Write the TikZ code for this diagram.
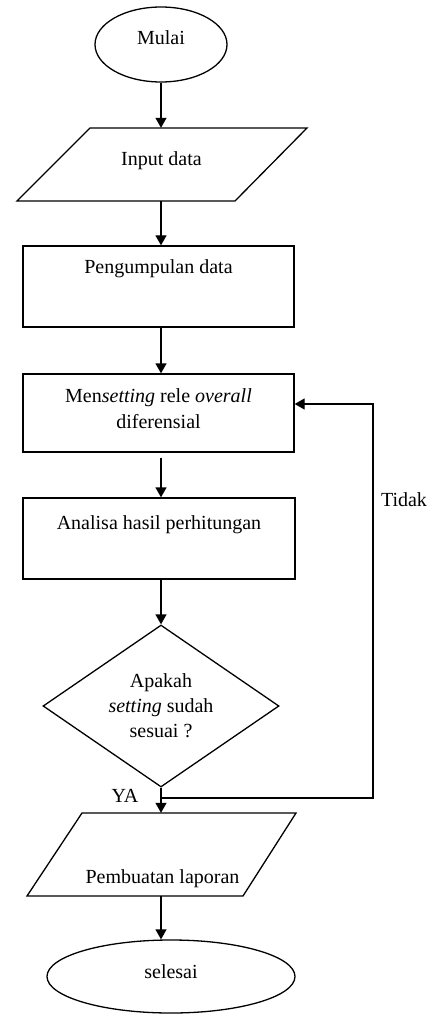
\documentclass[tikz,border=0pt]{standalone}
\usepackage{fontspec}
\setmainfont{Liberation Serif}
\usetikzlibrary{shapes.geometric,arrows.meta}
\begin{document}
\begin{tikzpicture}[x=1pt,y=-1pt,
  outline/.style={draw=black,line width=1.3pt},
  term/.style={outline,ellipse,inner sep=0pt},
  procbox/.style={outline,rectangle,minimum width=271pt,inner sep=0pt},
  decision/.style={outline,diamond,minimum width=236pt,minimum height=162pt,aspect=1.46,inner sep=0pt,
    font=\fontsize{20}{25}\selectfont,align=center},
  area/.style={rectangle,inner sep=0pt},
  txt/.style={inner sep=0pt,font=\fontsize{20}{26}\selectfont,align=center},
  arr/.style={line width=1.3pt,-{Triangle[length=10pt,width=11pt]}},
  link/.style={line width=1.3pt}]
\useasboundingbox (0,0) rectangle (439,1016);
\coordinate (ax) at (161,0);
% start
\node[term,minimum width=132pt,minimum height=75pt] (mulai) at (161,44.5) {};
\node[txt] (mulaitxt) at (161,38) {Mulai};
% input data
\node[area,minimum width=217pt,minimum height=73pt] (inp) at (161,164.5) {};
\draw[outline] (17,201) -- (90,128) -- (307,128) -- (235,201) -- cycle;
\node[txt] (inptxt) at (161.5,161) {Input data};
% pengumpulan
\node[procbox,minimum height=81pt] (peng) at (158.5,286.5) {};
\node[txt] (pengtxt) at (158.5,269) {Pengumpulan data};
% mensetting
\node[procbox,minimum height=78pt] (men) at (158.5,413) {};
\node[txt] (mentxt) at (158.5,409) {Men\textit{setting} rele \textit{overall}\\diferensial};
% analisa
\node[procbox,minimum width=272pt,minimum height=81pt] (ana) at (159,538.5) {};
\node[txt] (anatxt) at (159,525) {Analisa hasil perhitungan};
% decision
\node[decision] (dia) at (161,706) {Apakah\\\textit{setting} sudah\\sesuai ?};
% pembuatan laporan
\node[area,minimum width=160pt,minimum height=83pt] (lap) at (161,854.5) {};
\draw[outline] (27,896) -- (82,813) -- (296,813) -- (243,896) -- cycle;
\node[txt] (laptxt) at (162.5,879) {Pembuatan laporan};
% end
\node[term,minimum width=248pt,minimum height=73pt] (sel) at (171,976.5) {};
\node[txt] (seltxt) at (171,972) {selesai};
% connectors
\draw[arr] (mulai.south) -- (inp.north);
\draw[arr] (inp.south) -- (inp.south |- peng.north);
\draw[arr] (peng.south -| ax) -- (men.north -| ax);
\draw[arr,shorten <=5pt] (men.south -| ax) -- (ana.north -| ax);
\draw[arr] (ana.south -| ax) -- (dia.north);
\coordinate (j) at (161,798);
\draw[arr] (dia.south) -- (lap.north);
\coordinate (c1) at (373,798);
\coordinate (c2) at (373,404);
\draw[arr] (j) -- (c1) -- (c2) -- (men.east |- c2);
\draw[arr] (lap.south) -- (lap.south |- sel.north);
% labels
\node[txt] (tidak) at (404,500) {Tidak};
\node[txt] (ya) at (125,796) {YA};
\end{tikzpicture}
\end{document}
